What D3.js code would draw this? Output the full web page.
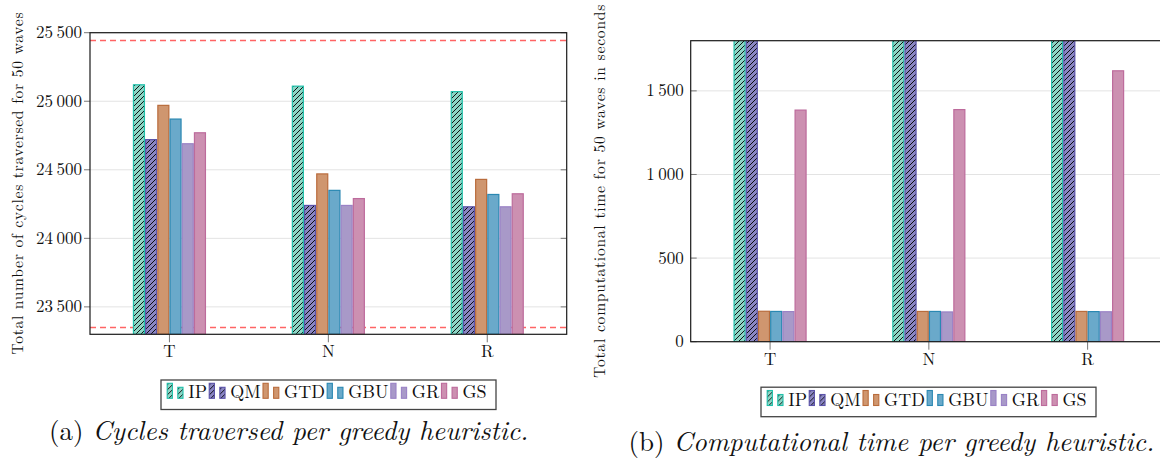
<!DOCTYPE html>
<html>
<head>
<meta charset="UTF-8">
<title>Greedy heuristics</title>
<script src="https://cdn.jsdelivr.net/npm/d3@7"></script>
<style>
  body { margin: 0; background: #fff; }
  svg { display: block; }
  text { font-family: "Latin Modern Roman", "Liberation Serif", serif; fill: #111; }
</style>
</head>
<body>
<div id="chart"></div>
<script>
/*global d3*/

// ---- data ----
var categories = ["T", "N", "R"];
var heuristics = ["IP", "QM", "GTD", "GBU", "GR", "GS"];

// (a) total cycles traversed for 50 waves
var cyclesIP  = [25120, 25110, 25070];
var cyclesQM  = [24720, 24240, 24230];
var cyclesGTD = [24970, 24470, 24430];
var cyclesGBU = [24870, 24350, 24320];
var cyclesGR  = [24690, 24240, 24230];
var cyclesGS  = [24770, 24290, 24325];
var cycleBounds = [25450, 23350];
var cycleTicks = [23500, 24000, 24500, 25000, 25500];

// (b) computational time in seconds (IP and QM run past the top of the axis)
var timeIP  = [3600, 3600, 3600];
var timeQM  = [3600, 3600, 3600];
var timeGTD = [182, 181, 181];
var timeGBU = [181, 181, 180];
var timeGR  = [180, 178, 179];
var timeGS  = [1385, 1388, 1620];
var timeTicks = [0, 500, 1000, 1500];

// ---- style ----
var fills   = ["#8dd5c5", "#8a86c2", "#cf966f", "#6aa9ca", "#a899c8", "#cc90b1"];
var strokes = ["#1fc0aa", "#5a52a9", "#b96c3c", "#2a88b2", "#9a82c6", "#bd6b9c"];
var hatched = [true, true, false, false, false, false];

var width = 1160, height = 458;

var svg = d3.select("#chart").append("svg")
    .attr("width", width)
    .attr("height", height);

var defs = svg.append("defs");
defs.append("pattern")
    .attr("id", "hatch")
    .attr("patternUnits", "userSpaceOnUse")
    .attr("width", 5)
    .attr("height", 5)
  .append("path")
    .attr("d", "M-1,1 l2,-2 M0,5 l5,-5 M4,6 l2,-2")
    .attr("stroke", "#000")
    .attr("stroke-width", 0.9);

// thin space as thousands separator, like pgfplots
var fmt = function (v) { return d3.format(",")(v).replace(/,/g, "\u2009"); };

function panel(cfg) {
    var g = svg.append("g");
    var x = d3.scalePoint().domain(categories).range([cfg.left, cfg.right]).padding(0.5);
    var sub = d3.scaleBand().domain(heuristics).range([-36.6, 36.6]);
    var y = d3.scaleLinear().domain(cfg.yDomain).range([cfg.bottom, cfg.top]);

    g.append("clipPath").attr("id", cfg.id + "-clip")
      .append("rect")
        .attr("x", cfg.left).attr("y", cfg.top)
        .attr("width", cfg.right - cfg.left).attr("height", cfg.bottom - cfg.top);

    // grid
    g.append("g").selectAll("line").data(cfg.ticks).enter().append("line")
        .attr("x1", cfg.left).attr("x2", cfg.right)
        .attr("y1", function (d) { return y(d); })
        .attr("y2", function (d) { return y(d); })
        .attr("stroke", "#e3e3e3").attr("stroke-width", 1);

    // reference lines
    if (cfg.refs) {
        g.append("g").selectAll("line").data(cfg.refs).enter().append("line")
            .attr("x1", cfg.left).attr("x2", cfg.right)
            .attr("y1", function (d) { return Math.round(y(d)) + 0.5; })
            .attr("y2", function (d) { return Math.round(y(d)) + 0.5; })
            .attr("stroke", "#ff3030").attr("stroke-opacity", 0.75)
            .attr("stroke-width", 1.6)
            .attr("stroke-dasharray", "6,4");
    }

    // bars
    var rows = [];
    heuristics.forEach(function (h, i) {
        categories.forEach(function (c, j) {
            rows.push({ h: h, i: i, c: c, v: cfg.series[i][j] });
        });
    });
    var bars = g.append("g").attr("clip-path", "url(#" + cfg.id + "-clip)")
        .selectAll("g").data(rows).enter().append("g");
    var bx = function (d) { return x(d.c) + sub(d.h) + 0.6; };
    var by = function (d) { return y(d.v); };
    var bh = function (d) { return cfg.bottom - y(d.v); };
    bars.append("rect")
        .attr("x", bx).attr("y", by)
        .attr("width", sub.bandwidth() - 1.2).attr("height", bh)
        .attr("fill", function (d) { return fills[d.i]; });
    bars.filter(function (d) { return hatched[d.i]; }).append("rect")
        .attr("x", bx).attr("y", by)
        .attr("width", sub.bandwidth() - 1.2).attr("height", bh)
        .attr("fill", "url(#hatch)");
    bars.append("rect")
        .attr("x", bx).attr("y", by)
        .attr("width", sub.bandwidth() - 1.2).attr("height", bh)
        .attr("fill", "none")
        .attr("stroke", function (d) { return strokes[d.i]; })
        .attr("stroke-width", 1.2);

    // y ticks (left side + mirrored on the right, inside)
    var tl = cfg.outsideTicks ? -6 : 6;
    g.append("g").selectAll("line").data(cfg.ticks).enter().append("line")
        .attr("x1", cfg.left).attr("x2", cfg.left + tl)
        .attr("y1", function (d) { return y(d); }).attr("y2", function (d) { return y(d); })
        .attr("stroke", "#777");
    g.append("g").selectAll("line").data(cfg.ticks).enter().append("line")
        .attr("x1", cfg.right).attr("x2", cfg.right - 6)
        .attr("y1", function (d) { return y(d); }).attr("y2", function (d) { return y(d); })
        .attr("stroke", "#777");
    g.append("g").selectAll("text").data(cfg.ticks).enter().append("text")
        .attr("x", cfg.left - (cfg.outsideTicks ? 8 : 7))
        .attr("y", function (d) { return y(d); })
        .attr("dy", "0.33em")
        .attr("text-anchor", "end")
        .style("font-size", "17px")
        .text(fmt);

    // x ticks
    g.append("g").selectAll("line").data(categories).enter().append("line")
        .attr("x1", function (d) { return x(d); }).attr("x2", function (d) { return x(d); })
        .attr("y1", cfg.bottom).attr("y2", cfg.bottom + 8)
        .attr("stroke", "#777");
    g.append("g").selectAll("text").data(categories).enter().append("text")
        .attr("x", function (d) { return x(d); })
        .attr("y", cfg.bottom + 23)
        .attr("text-anchor", "middle")
        .style("font-size", "17px")
        .text(function (d) { return d; });

    // frame
    g.append("rect")
        .attr("x", cfg.left).attr("y", cfg.top)
        .attr("width", cfg.right - cfg.left).attr("height", cfg.bottom - cfg.top)
        .attr("fill", "none").attr("stroke", "#1a1a1a").attr("stroke-width", 1.2);

    // y label
    g.append("text")
        .attr("transform", "translate(" + cfg.labelX + "," + (cfg.top + cfg.bottom) / 2 + ") rotate(-90)")
        .attr("text-anchor", "middle")
        .attr("dy", "0.35em")
        .attr("textLength", cfg.labelLen)
        .style("font-size", "15.5px")
        .text(cfg.yLabel);

    // legend: two small bars per entry, then the name; gaps fill the box
    var boxW = 335;
    var lg = g.append("g").attr("transform", "translate(" + cfg.legend[0] + "," + cfg.legend[1] + ")");
    lg.append("rect")
        .attr("width", boxW).attr("height", 29.5)
        .attr("fill", "#fff").attr("stroke", "#444").attr("stroke-width", 1.3);
    var entries = heuristics.map(function (h, i) {
        var eg = lg.append("g");
        [[0, 15], [10.6, 11]].forEach(function (s) {
            eg.append("rect")
                .attr("x", s[0]).attr("y", 18.3 - s[1])
                .attr("width", 5.2).attr("height", s[1])
                .attr("fill", fills[i]);
            if (hatched[i]) {
                eg.append("rect")
                    .attr("x", s[0]).attr("y", 18.3 - s[1])
                    .attr("width", 5.2).attr("height", s[1])
                    .attr("fill", "url(#hatch)");
            }
            eg.append("rect")
                .attr("x", s[0]).attr("y", 18.3 - s[1])
                .attr("width", 5.2).attr("height", s[1])
                .attr("fill", "none").attr("stroke", strokes[i]).attr("stroke-width", 1.1);
        });
        var t = eg.append("text")
            .attr("x", 21).attr("y", 18.3)
            .style("font-size", "18px")
            .text(h);
        return { g: eg, w: 21 + t.node().getComputedTextLength() };
    });
    var used = d3.sum(entries, function (e) { return e.w; });
    var gap = (boxW - 6.2 - 9.4 - used) / (entries.length - 1);
    var lx = 6.2;
    entries.forEach(function (e) {
        e.g.attr("transform", "translate(" + lx + ",0)");
        lx += e.w + gap;
    });

    // caption
    var cap = svg.append("text")
        .attr("x", cfg.caption[0]).attr("y", cfg.caption[1])
        .style("font-size", "27px");
    cap.append("tspan").text(cfg.caption[2] + " ");
    cap.append("tspan").style("font-style", "italic").text(cfg.caption[3]);
}

panel({
    id: "cyc",
    left: 90, right: 566.7, top: 32.7, bottom: 334.3,
    yDomain: [23300, 25500], ticks: cycleTicks, refs: cycleBounds,
    series: [cyclesIP, cyclesQM, cyclesGTD, cyclesGBU, cyclesGR, cyclesGS],
    outsideTicks: true,
    labelX: 18, labelLen: 342,
    yLabel: "Total number of cycles traversed for 50 waves",
    legend: [161, 380],
    caption: [49, 440, "(a)", "Cycles traversed per greedy heuristic."]
});

panel({
    id: "time",
    left: 690.7, right: 1167, top: 40.7, bottom: 341.7,
    yDomain: [0, 1800], ticks: timeTicks, refs: null,
    series: [timeIP, timeQM, timeGTD, timeGBU, timeGR, timeGS],
    outsideTicks: false,
    labelX: 600, labelLen: 373,
    yLabel: "Total computational time for 50 waves in seconds",
    legend: [761, 387.2],
    caption: [628.6, 451, "(b)", "Computational time per greedy heuristic."]
});
</script>
</body>
</html>
